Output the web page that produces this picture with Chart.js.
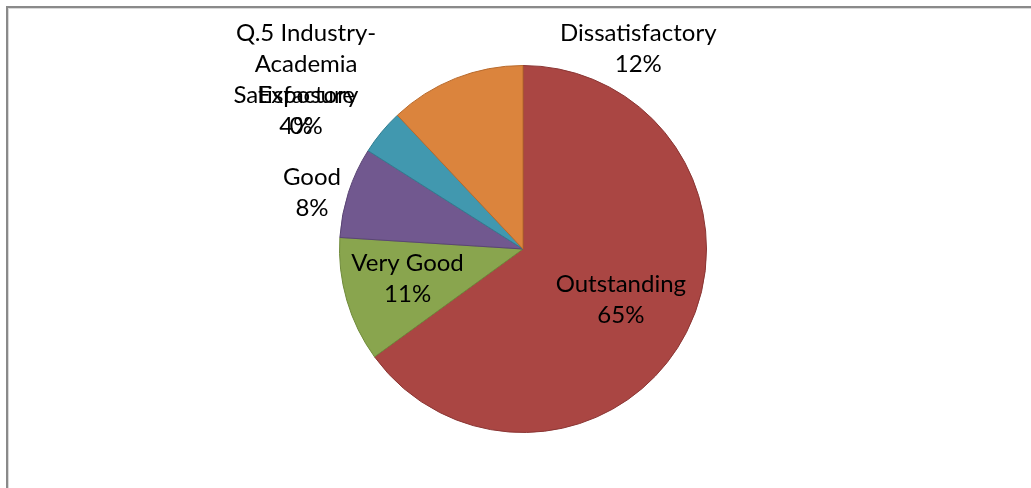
<!DOCTYPE html>
<html>
<head>
<meta charset="utf-8">
<script src="https://cdn.jsdelivr.net/npm/chart.js@4"></script>
<style>
    html, body { margin: 0; padding: 0; background: #fff; overflow: hidden; }
    #wrap { position: relative; width: 1031px; height: 488px; }
    #frame {
        position: absolute; left: 6px; top: 6px; width: 1100px; height: 600px;
        border-left: 2px solid #8a8a8a; border-top: 2px solid #8a8a8a;
        box-shadow: inset 1px 1px 0 #d9d9d9;
    }
    canvas { position: absolute; left: 0; top: 0; }
</style>
</head>
<body>
<div id="wrap">
    <div id="frame"></div>
    <canvas id="pie" width="1031" height="488"></canvas>
</div>
<script>
// Q.5 Industry-Academia Exposure - response share

const categories = ['Outstanding', 'Very Good', 'Good', 'Satisfactory', 'Q.5 Industry-Academia Exposure', 'Dissatisfactory'];
const labelLines = [['Outstanding'], ['Very Good'], ['Good'], ['Satisfactory'], ['Q.5 Industry-', 'Academia', 'Exposure'], ['Dissatisfactory']];
const shares = [65, 11, 8, 4, 0, 12];

const fills = ['#aa4643', '#89a54e', '#71588f', '#4198af', '#4198af', '#db843d'];
const edges = ['#8a3533', '#6f8a3a', '#5a4574', '#317d91', '#317d91', '#b86a2c'];

// where each label block sits: angle (deg clockwise from top) and distance in radii
const labelPos = [
    { a: 117.3, r: 0.60 },
    { a: 255.4, r: 0.65 },
    { a: 284.9, r: 1.19 },
    { a: 301.4, r: 1.45 },
    { a: 308.0, r: 1.50 },
    { a: 29.9, r: 1.26 },
];

const sliceLabels = {
    id: 'sliceLabels',
    afterDatasetsDraw(chart) {
        const ctx = chart.ctx;
        const meta = chart.getDatasetMeta(0);
        const data = chart.data.datasets[0].data;
        const total = data.reduce((s, v) => s + v, 0);
        const lineH = 31;
        ctx.save();
        ctx.font = '24px Lato, "Liberation Sans", sans-serif';
        ctx.fillStyle = '#000';
        ctx.textAlign = 'center';
        ctx.textBaseline = 'middle';
        meta.data.forEach((arc, i) => {
            const pos = labelPos[i];
            const ang = pos.a * Math.PI / 180;
            const cx = arc.x + Math.sin(ang) * arc.outerRadius * pos.r;
            const cy = arc.y - Math.cos(ang) * arc.outerRadius * pos.r;
            const lines = labelLines[i].concat([Math.round(data[i] / total * 100) + '%']);
            const top = cy - (lines.length - 1) * lineH / 2;
            lines.forEach((t, k) => ctx.fillText(t, cx, top + k * lineH));
        });
        ctx.restore();
    }
};

new Chart(document.getElementById('pie'), {
    type: 'pie',
    data: {
        labels: categories,
        datasets: [{
            data: shares,
            backgroundColor: fills,
            borderColor: edges,
            borderWidth: 1,
        }],
    },
    options: {
        responsive: false,
        animation: false,
        layout: { padding: { left: 339, right: 324, top: 65, bottom: 55 } },
        plugins: {
            legend: { display: false },
            tooltip: { enabled: false },
        },
    },
    plugins: [sliceLabels],
});
</script>
</body>
</html>
